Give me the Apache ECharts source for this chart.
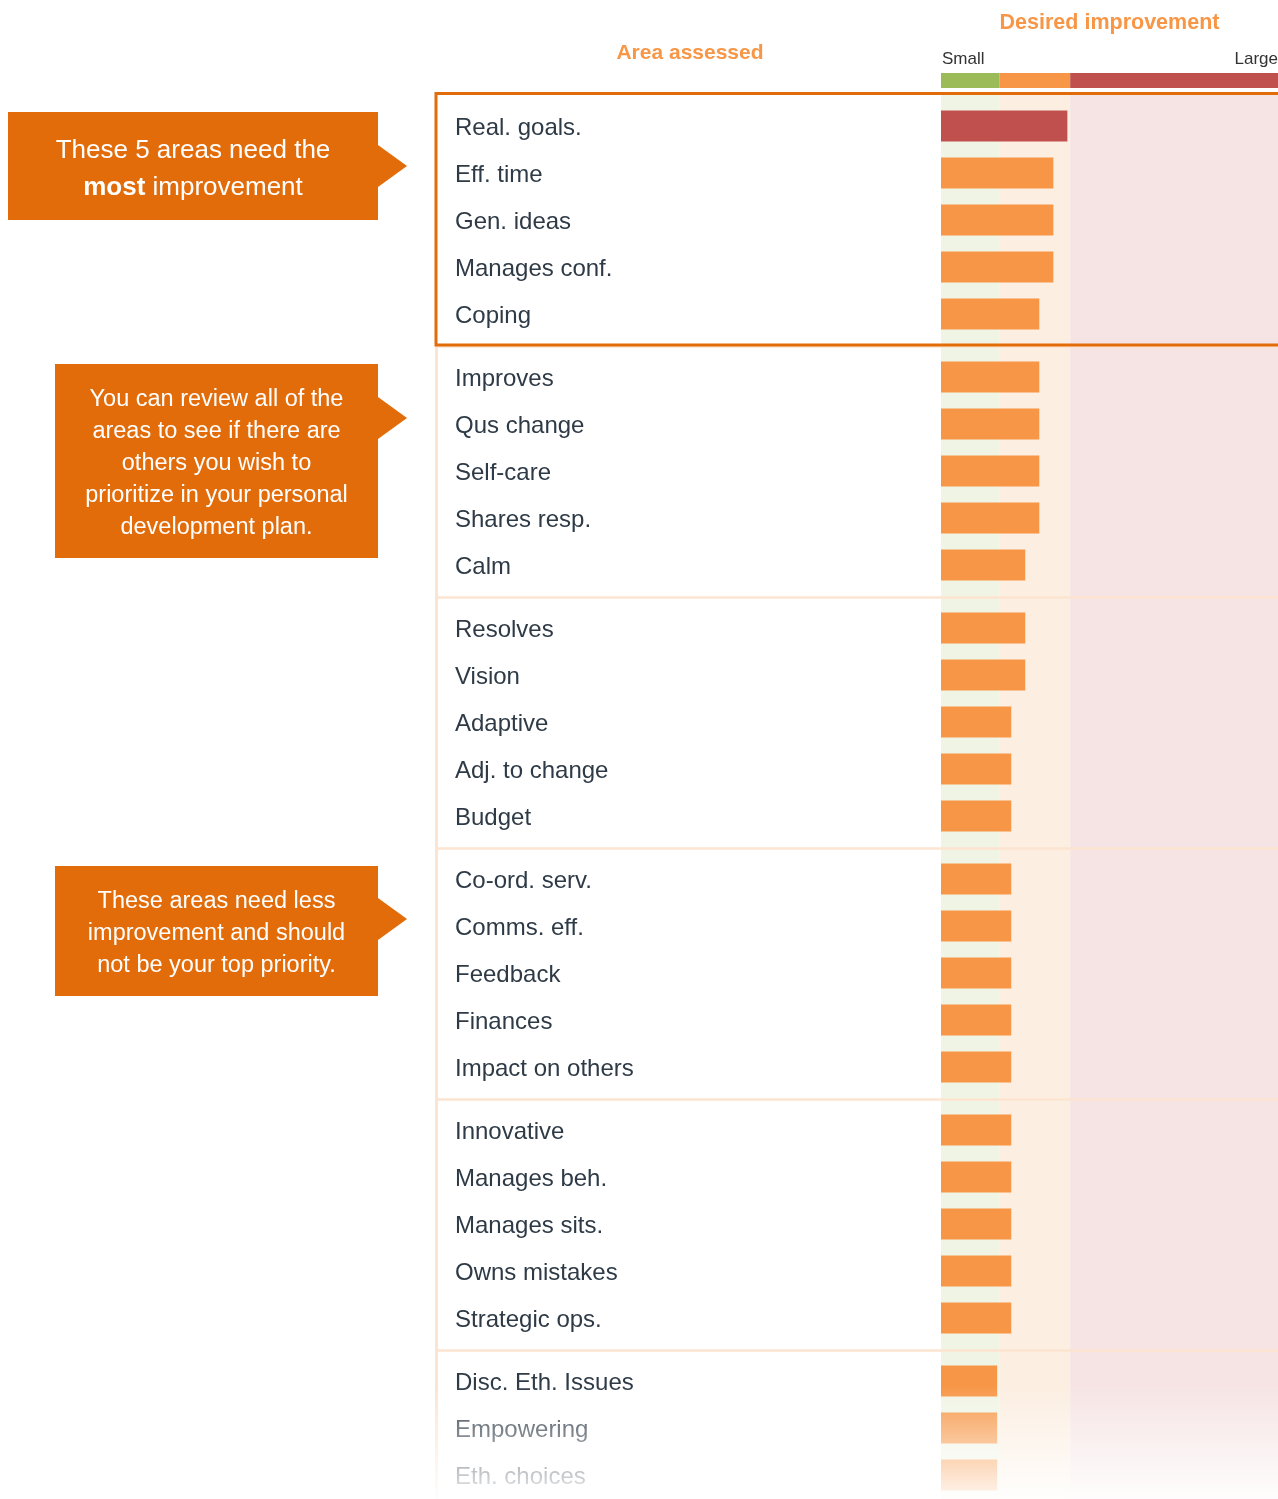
<!DOCTYPE html>
<html>
<head>
<meta charset="utf-8">
<script src="https://cdn.jsdelivr.net/npm/echarts@6/dist/echarts.min.js"></script>
<style>
html,body{margin:0;padding:0;background:#fff;}
#chart{width:1278px;height:1499px;}
</style>
</head>
<body>
<div id="chart"></div>
<script>
// ---- data ----
const groups = [
  ["Real. goals.", "Eff. time", "Gen. ideas", "Manages conf.", "Coping"],
  ["Improves", "Qus change", "Self-care", "Shares resp.", "Calm"],
  ["Resolves", "Vision", "Adaptive", "Adj. to change", "Budget"],
  ["Co-ord. serv.", "Comms. eff.", "Feedback", "Finances", "Impact on others"],
  ["Innovative", "Manages beh.", "Manages sits.", "Owns mistakes", "Strategic ops."],
  ["Disc. Eth. Issues", "Empowering", "Eth. choices"]
];
const values = [
  [9, 8, 8, 8, 7],
  [7, 7, 7, 7, 6],
  [6, 6, 5, 5, 5],
  [5, 5, 5, 5, 5],
  [5, 5, 5, 5, 5],
  [4, 4, 4]
];
const scaleMax = 24;
const bandEdges = [0, 4.15, 9.2, 24];
const bandNames = ["Small", "Medium", "Large"];
const redThreshold = 9;
const callouts = [
  { lines: "These 5 areas need the\n{b|most} improvement" },
  { lines: "You can review all of the\nareas to see if there are\nothers you wish to\nprioritize in your personal\ndevelopment plan." },
  { lines: "These areas need less\nimprovement and should\nnot be your top priority." }
];

// ---- style ----
const FONT = "'Liberation Sans', Arial, Helvetica, sans-serif";
const ORANGE = "#F79646", RED = "#C0504D", DARKORANGE = "#E36C0A";
const stripColors = ["#9BBB59", "#F79646", "#C0504D"];
const lightColors = ["#F0F4E5", "#FCEEE1", "#F6E4E4"];
const plotLeft = 941, rowH = 47, groupStep = 251, firstTop = 102.5;

const chart = echarts.init(document.getElementById('chart'), null, { renderer: 'canvas' });

const grids = [], xAxes = [], yAxes = [], series = [];

function addBandGrid(top, height, colors) {
  const gi = grids.length;
  grids.push({ left: plotLeft, right: 0, top: top, height: height, outerBoundsMode: 'none' });
  xAxes.push({ gridIndex: gi, type: 'value', min: 0, max: scaleMax, show: false });
  yAxes.push({ gridIndex: gi, type: 'category', data: ['band'], show: false });
  for (let b = 0; b < bandNames.length; b++) {
    series.push({
      type: 'bar', xAxisIndex: gi, yAxisIndex: gi, stack: 'band' + gi,
      barWidth: '100%', silent: true, z: 1,
      itemStyle: { color: colors[b] },
      data: [bandEdges[b + 1] - bandEdges[b]]
    });
  }
}
// header colour strip and light background bands
addBandGrid(73, 15, stripColors);
addBandGrid(92, 1499 - 92, lightColors);

groups.forEach((cats, g) => {
  const gi = grids.length;
  const top = firstTop + groupStep * g;
  grids.push({ left: plotLeft, right: 0, top: top, height: rowH * cats.length, outerBoundsMode: 'none' });
  xAxes.push({ gridIndex: gi, type: 'value', min: 0, max: scaleMax, show: false });
  yAxes.push({
    gridIndex: gi, type: 'category', data: cats, inverse: true,
    axisLine: { show: false }, axisTick: { show: false }, splitLine: { show: false },
    axisLabel: {
      align: 'left', margin: plotLeft - 455,
      formatter: v => '{a|' + v + '}',
      rich: { a: { color: '#2E3A46', fontSize: 24, fontFamily: FONT, padding: [5, 0, 0, 0] } }
    }
  });
  series.push({
    type: 'bar', xAxisIndex: gi, yAxisIndex: gi, barWidth: 31, z: 3,
    itemStyle: { color: p => p.value >= redThreshold ? RED : ORANGE },
    data: values[g]
  });
});

// decorations
const graphics = [];
// separators between groups
for (let g = 0; g < groups.length - 1; g++) {
  const y = firstTop + groupStep * (g + 1) - 7;
  graphics.push({ type: 'line', z: 50, shape: { x1: 436, y1: y, x2: 1278, y2: y }, style: { stroke: '#FDE4D0', lineWidth: 2.5 } });
}
graphics.push({ type: 'line', z: 50, shape: { x1: 436.5, y1: 346, x2: 436.5, y2: 1499 }, style: { stroke: '#FDE4D0', lineWidth: 3 } });
// orange box around top group
graphics.push({ type: 'rect', z: 60, shape: { x: 436, y: 93.5, width: 860, height: 251.5 }, style: { fill: null, stroke: DARKORANGE, lineWidth: 3 } });

// callouts
const calloutBoxes = [
  { x: 8, y: 112, w: 370, h: 108, tipY: 166, fs: 26, lh: 37, cx: 193 },
  { x: 55, y: 364, w: 323, h: 194, tipY: 418, fs: 23.5, lh: 32, cx: 216.5 },
  { x: 55, y: 866, w: 323, h: 130, tipY: 919, fs: 23.5, lh: 32, cx: 216.5 }
];
calloutBoxes.forEach((b, i) => {
  const r = b.x + b.w;
  graphics.push({
    type: 'polygon', z: 40,
    shape: { points: [[b.x, b.y], [r, b.y], [r, b.tipY - 21], [r + 29, b.tipY], [r, b.tipY + 21], [r, b.y + b.h], [b.x, b.y + b.h]] },
    style: { fill: DARKORANGE }
  });
  graphics.push({
    type: 'text', z: 41, x: b.cx, y: b.y + b.h / 2 + 3,
    style: {
      text: callouts[i].lines, fill: '#fff', fontSize: b.fs, fontFamily: FONT,
      align: 'center', verticalAlign: 'middle', lineHeight: b.lh,
      rich: { b: { fontWeight: 'bold', fontSize: b.fs, fontFamily: FONT, fill: '#fff', lineHeight: b.lh } }
    }
  });
});

// headers
graphics.push({ type: 'text', z: 41, x: 1109.5, y: 23, style: { text: 'Desired improvement', fill: ORANGE, fontSize: 21.5, fontWeight: 'bold', fontFamily: FONT, align: 'center', verticalAlign: 'middle' } });
graphics.push({ type: 'text', z: 41, x: 690, y: 53, style: { text: 'Area assessed', fill: ORANGE, fontSize: 21, fontWeight: 'bold', fontFamily: FONT, align: 'center', verticalAlign: 'middle' } });
graphics.push({ type: 'text', z: 41, x: 942, y: 59, style: { text: 'Small', fill: '#333', fontSize: 17, fontFamily: FONT, align: 'left', verticalAlign: 'middle' } });
graphics.push({ type: 'text', z: 41, x: 1278, y: 59, style: { text: 'Large', fill: '#333', fontSize: 17, fontFamily: FONT, align: 'right', verticalAlign: 'middle' } });

// bottom fade
graphics.push({
  type: 'rect', z: 100, shape: { x: 430, y: 1385, width: 848, height: 114 },
  style: { fill: new echarts.graphic.LinearGradient(0, 0, 0, 1, [
    { offset: 0, color: 'rgba(255,255,255,0)' },
    { offset: 1, color: 'rgba(255,255,255,0.92)' }
  ]) }
});

chart.setOption({
  animation: false,
  backgroundColor: '#fff',
  grid: grids,
  xAxis: xAxes,
  yAxis: yAxes,
  series: series,
  graphic: { elements: graphics }
});
</script>
</body>
</html>
